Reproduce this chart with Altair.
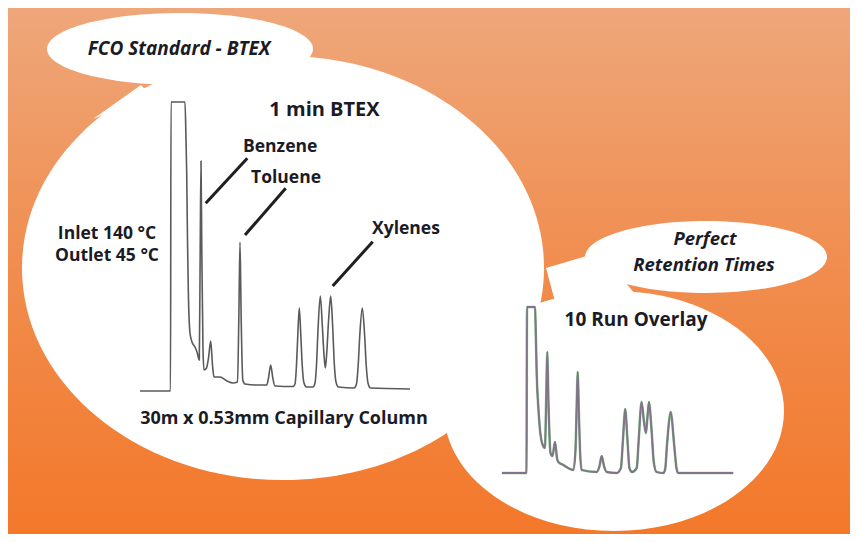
import altair as alt
import pandas as pd

# ---------------- data ----------------
# 1 min BTEX chromatogram: retention time (s) and detector signal (arb. units)
main_t = [0, 6.1, 6.2, 9.0, 9.2, 9.34, 9.5, 9.66, 10.0, 10.4, 11.0, 11.4, 11.86,
          12.04, 12.2, 12.36, 12.6, 12.8, 13.3, 13.7, 14.14, 14.5, 14.8, 16.0,
          17.4, 18.6, 19.5, 19.76, 20.0, 20.24, 20.56, 21.0, 23.2, 25.34, 25.7,
          26.14, 26.56, 27.0, 30.6, 31.0, 31.3, 31.56, 31.86, 32.16, 32.44, 32.8,
          33.3, 34.6, 35.0, 35.3, 35.6, 36.06, 36.46, 36.8, 37.06, 37.36, 37.72,
          38.14, 38.52, 38.84, 39.2, 39.7, 42.8, 43.3, 43.64, 43.96, 44.46, 44.92,
          45.24, 45.6, 46.1, 54.0]
main_s = [0, 0, 289, 289, 251, 218, 151, 101, 58, 49, 44, 39, 31,
          141, 230, 141, 41, 21, 23, 33, 50, 26, 14, 14,
          10, 8, 9, 71, 149, 71, 11, 7, 6, 6, 13,
          26, 13, 5, 4.5, 7, 26, 56, 83, 56, 26, 8,
          4, 4, 8, 26, 61, 95, 66, 36, 23, 39, 71,
          95, 66, 29, 9, 4, 3, 7, 26, 56, 83, 56,
          26, 8, 3, 2]

# 10 run overlay chromatogram
ov_t = [-0.5, 6.05, 6.18, 8.31, 8.58, 8.76, 9.19, 9.64, 10.36, 10.97, 11.29, 11.59,
        11.88, 12.44, 12.97, 13.64, 14.17, 14.52, 15.85, 18.51, 19.1, 19.39, 19.69,
        19.98, 20.3, 20.75, 24.75, 25.5, 26.08, 26.69, 27.41, 30.07, 31.2, 31.74,
        32.35, 32.94, 33.47, 34.14, 35.41, 35.94, 36.69, 37.36, 37.86, 38.21, 38.67,
        39.36, 39.95, 40.69, 42.5, 43.0, 43.47, 44.46, 45.39, 46.0, 46.48, 61.1]
ov_s = [0, 0, 166, 166, 130, 100, 66, 43, 28, 25, 73, 121,
        73, 20, 17, 31, 15, 11, 8, 3, 23, 63, 101,
        63, 23, 3, 1, 7, 17, 7, 1, 0, 5, 33,
        64, 33, 5, 1, 5, 33, 71, 51, 40, 53, 71,
        43, 11, 1, 0, 4, 28, 61, 28, 5, 0, 0]

# peak labels with their leader lines (in chromatogram units)
peak_names = ["Benzene", "Toluene", "Xylenes"]
label_t = [20.6, 22.2, 46.4]
label_s = [244, 213, 162]
lead_t1 = [13.14, 21.0, 38.54]
lead_s1 = [187.7, 156, 105]
lead_t2 = [21.46, 29.14, 46.54]
lead_s2 = [232.7, 202.7, 149.3]

main_df = pd.DataFrame({"t": main_t, "s": main_s})
ov_df = pd.DataFrame({"t": ov_t, "s": ov_s})
ann_df = pd.DataFrame({"name": peak_names, "lt": label_t, "ls": label_s,
                       "t1": lead_t1, "s1": lead_s1, "t2": lead_t2, "s2": lead_s2})

# ---------------- layout / styles ----------------
M = 8                      # page margin: layout below is given in page pixels
W, H = 858 - 2 * M, 542 - 2 * M
FONT = "Open Sans"
INK = "#1b1b26"


def px(v):
    return v - M


main_x = alt.Scale(domain=[0, 54], range=[px(140), px(410)], nice=False, zero=False)
main_y = alt.Scale(domain=[0, 290], range=[px(391), px(101)], nice=False, zero=False)
ov_x = alt.Scale(domain=[0, 54], range=[px(503.8), px(706.5)], nice=False, zero=False)
ov_y = alt.Scale(domain=[0, 166], range=[px(473), px(307)], nice=False, zero=False)


def ellipse_path(ratio):
    k = 0.5523
    r = ratio
    return (f"M -1 0 C -1 {-k*r:.4f} {-k:.4f} {-r:.4f} 0 {-r:.4f} "
            f"C {k:.4f} {-r:.4f} 1 {-k*r:.4f} 1 0 "
            f"C 1 {k*r:.4f} {k:.4f} {r:.4f} 0 {r:.4f} "
            f"C {-k:.4f} {r:.4f} -1 {k*r:.4f} -1 0 Z")


def one():
    return alt.Chart(pd.DataFrame({"k": [0]}))


def blob(cx, cy, rx, ry):
    return one().mark_point(
        shape=ellipse_path(ry / rx), size=(2 * rx) ** 2, filled=True,
        fill="white", opacity=1, strokeWidth=0
    ).encode(x=alt.value(px(cx)), y=alt.value(px(cy)))


def wedge(cx, cy, pts, unit=50):
    # bubble tail: polygon given in page pixels around (cx, cy)
    path = "M " + " L ".join(f"{(x - cx) / unit:.3f} {(y - cy) / unit:.3f}" for x, y in pts) + " Z"
    return one().mark_point(
        shape=path, size=(2 * unit) ** 2, filled=True, fill="white",
        opacity=1, strokeWidth=0
    ).encode(x=alt.value(px(cx)), y=alt.value(px(cy)))


def label(txt, x, y, size, italic=False, align="center"):
    return one().mark_text(
        text=txt, font=FONT, fontSize=size, fontWeight="bold",
        fontStyle="italic" if italic else "normal", color=INK,
        align=align, baseline="middle"
    ).encode(x=alt.value(px(x)), y=alt.value(px(y)))


bg = one().mark_rect(
    fill=alt.LinearGradient(
        gradient="linear", x1=0, x2=0, y1=0, y2=1,
        stops=[alt.GradientStop(offset=0, color="#eea77a"),
               alt.GradientStop(offset=0.45, color="#f08f52"),
               alt.GradientStop(offset=1, color="#f3782a")])
).encode(x=alt.value(0), x2=alt.value(W), y=alt.value(0), y2=alt.value(H))

blobs = [
    blob(283, 268, 261, 212),
    blob(180, 49, 133, 36),
    blob(614, 411, 170, 120),
    blob(706, 257, 121, 36),
    wedge(593, 286, [(546, 268), (600, 252), (640, 300), (560, 320)]),
    wedge(125, 98, [(141, 85), (93, 119), (150, 95)]),
]

main_line = alt.Chart(main_df).mark_line(
    color="#5a5a5a", strokeWidth=1.6, interpolate="monotone"
).encode(x=alt.X("t:Q", scale=main_x, axis=None),
         y=alt.Y("s:Q", scale=main_y, axis=None))

ov_base = alt.Chart(ov_df).encode(x=alt.X("t:Q", scale=ov_x, axis=None),
                                  y=alt.Y("s:Q", scale=ov_y, axis=None))
ov_green = ov_base.mark_line(color="#7cc47a", strokeWidth=2.6, interpolate="monotone", opacity=0.9)
ov_purple = ov_base.mark_line(color="#8d6a9f", strokeWidth=1.8, interpolate="monotone")
ov_gray = ov_base.mark_line(color="#7a7a7a", strokeWidth=1.2, interpolate="monotone", opacity=0.85)

leaders = alt.Chart(ann_df).mark_rule(color="#1f1f1f", strokeWidth=3).encode(
    x=alt.X("t1:Q", scale=main_x, axis=None), x2="t2:Q",
    y=alt.Y("s1:Q", scale=main_y, axis=None), y2="s2:Q")

peak_labels = alt.Chart(ann_df).mark_text(
    font=FONT, fontSize=17.5, fontWeight="bold", color=INK, align="left", baseline="middle"
).encode(x=alt.X("lt:Q", scale=main_x, axis=None),
         y=alt.Y("ls:Q", scale=main_y, axis=None), text="name:N")

texts = [
    label("FCO Standard - BTEX", 179, 49, 19, italic=True),
    label("1 min BTEX", 324.5, 110, 20),
    label("Inlet 140 °C", 107, 234, 17.5),
    label("Outlet 45 °C", 107, 256, 17.5),
    label("30m x 0.53mm Capillary Column", 284, 419, 18),
    label("Perfect", 705, 239, 18.5, italic=True),
    label("Retention Times", 704, 265, 18.5, italic=True),
    label("10 Run Overlay", 636, 320, 19),
]

chart = alt.layer(
    bg, *blobs, main_line, ov_green, ov_purple, ov_gray, leaders, peak_labels, *texts
).resolve_scale(x="independent", y="independent").properties(
    width=W, height=H, padding=0, autosize=alt.AutoSizeParams(type="none"),
).configure_view(stroke=None)

chart.save("out.html", embed_options={"renderer": "svg", "actions": False})
